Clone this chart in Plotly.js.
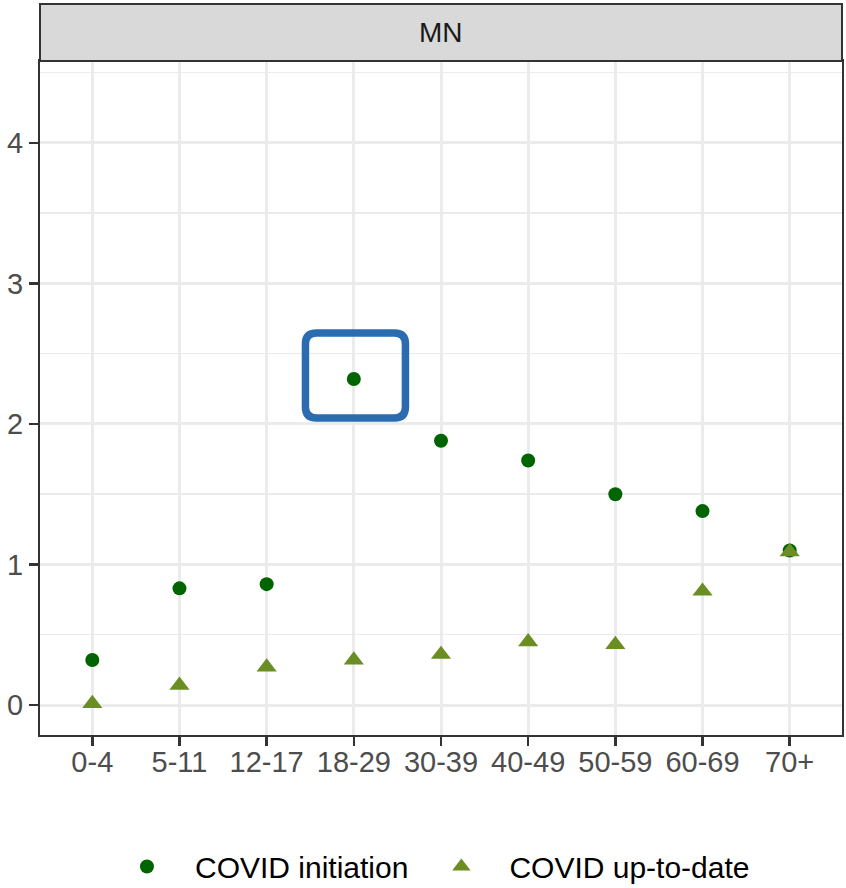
<!DOCTYPE html>
<html>
<head>
<meta charset="utf-8">
<script src="https://cdn.plot.ly/plotly-3.0.1.min.js"></script>
<style>html,body{margin:0;padding:0;background:#fff;}#chart{width:846px;height:888px;}</style>
</head>
<body>
<div id="chart"></div>
<script>
var ageGroups = ["0-4","5-11","12-17","18-29","30-39","40-49","50-59","60-69","70+"];
var covidInitiation = [0.32, 0.83, 0.86, 2.32, 1.88, 1.74, 1.50, 1.38, 1.10];
var covidUpToDate = [0.01, 0.14, 0.27, 0.32, 0.36, 0.45, 0.43, 0.81, 1.09];
var seriesNames = ["COVID initiation", "COVID up-to-date"];
var facetLabel = "MN";
var yTicks = [0, 1, 2, 3, 4];
var highlightIndex = 3;

var xRange = [-0.6, 8.6];
var yRange = [-0.2135, 4.583];

function px(v){ return (v - xRange[0]) / (xRange[1] - xRange[0]); }
function py(v){ return (v - yRange[0]) / (yRange[1] - yRange[0]); }

// rounded highlight box around the highlighted point (paper coords)
var hx = highlightIndex, hy = covidInitiation[highlightIndex];
var bx0 = px(hx - 0.555), bx1 = px(hx + 0.592);
var by0 = py(hy - 0.277), by1 = py(hy + 0.328);
var rx = 11/802, ry = 11/674;
var boxPath = "M" + (bx0+rx) + "," + by1 +
  " L" + (bx1-rx) + "," + by1 +
  " Q" + bx1 + "," + by1 + " " + bx1 + "," + (by1-ry) +
  " L" + bx1 + "," + (by0+ry) +
  " Q" + bx1 + "," + by0 + " " + (bx1-rx) + "," + by0 +
  " L" + (bx0+rx) + "," + by0 +
  " Q" + bx0 + "," + by0 + " " + bx0 + "," + (by0+ry) +
  " L" + bx0 + "," + (by1-ry) +
  " Q" + bx0 + "," + by1 + " " + (bx0+rx) + "," + by1 + " Z";

var traces = [
  {
    type: "scatter", mode: "markers", name: seriesNames[0],
    x: ageGroups, y: covidInitiation,
    marker: {symbol: "circle", size: 14, color: "#006400", line: {width: 0}}
  },
  {
    type: "scatter", mode: "markers", name: seriesNames[1],
    x: ageGroups, y: covidUpToDate,
    marker: {symbol: "triangle-up", size: 17.5, color: "#6B8E23", line: {width: 0}}
  }
];

var stripTop = 1 + (61 - 4) / 674;

var layout = {
  width: 846, height: 888,
  margin: {l: 40, r: 4, t: 61, b: 153, autoexpand: false},
  paper_bgcolor: "#ffffff", plot_bgcolor: "#ffffff",
  font: {family: "Liberation Sans, Arial, sans-serif", color: "#4D4D4D"},
  showlegend: true,
  legend: {
    orientation: "h", x: 0.4825, xanchor: "center", y: -0.195, yanchor: "middle",
    font: {size: 30, color: "#000000", family: "Liberation Sans, Arial, sans-serif"},
    itemwidth: 86, bgcolor: "rgba(0,0,0,0)"
  },
  xaxis: {
    type: "category", range: xRange, categoryorder: "array", categoryarray: ageGroups,
    showgrid: true, gridcolor: "#EBEBEB", gridwidth: 3,
    showline: true, linecolor: "#333333", linewidth: 2, mirror: true,
    ticks: "outside", ticklen: 9, tickwidth: 2.5, tickcolor: "#333333",
    ticklabelstandoff: -9,
    tickfont: {size: 29, color: "#4D4D4D"}, zeroline: false, fixedrange: true
  },
  yaxis: {
    range: yRange, tickmode: "array", tickvals: yTicks, ticktext: yTicks.map(String),
    showgrid: true, gridcolor: "#EBEBEB", gridwidth: 3,
    minor: {dtick: 0.5, tick0: 0, showgrid: true, gridcolor: "#EBEBEB", gridwidth: 1.5, ticks: ""},
    showline: true, linecolor: "#333333", linewidth: 2, mirror: true,
    ticks: "outside", ticklen: 9, tickwidth: 2.5, tickcolor: "#333333",
    tickfont: {size: 29, color: "#4D4D4D"}, zeroline: false, fixedrange: true
  },
  shapes: [
    {type: "rect", xref: "paper", yref: "paper", x0: 0, x1: 1, y0: 1, y1: stripTop,
     fillcolor: "#D9D9D9", line: {color: "#333333", width: 2}, layer: "above"},
    {type: "path", xref: "paper", yref: "paper", path: boxPath,
     line: {color: "#2B6CB0", width: 7.5}, fillcolor: "rgba(0,0,0,0)", layer: "above"}
  ],
  annotations: [
    {xref: "paper", yref: "paper", x: 0.5, y: (1 + stripTop) / 2, text: facetLabel,
     showarrow: false, xanchor: "center", yanchor: "middle",
     font: {size: 28, color: "#1A1A1A"}}
  ]
};

Plotly.newPlot("chart", traces, layout, {displayModeBar: false, staticPlot: true});
</script>
</body>
</html>
